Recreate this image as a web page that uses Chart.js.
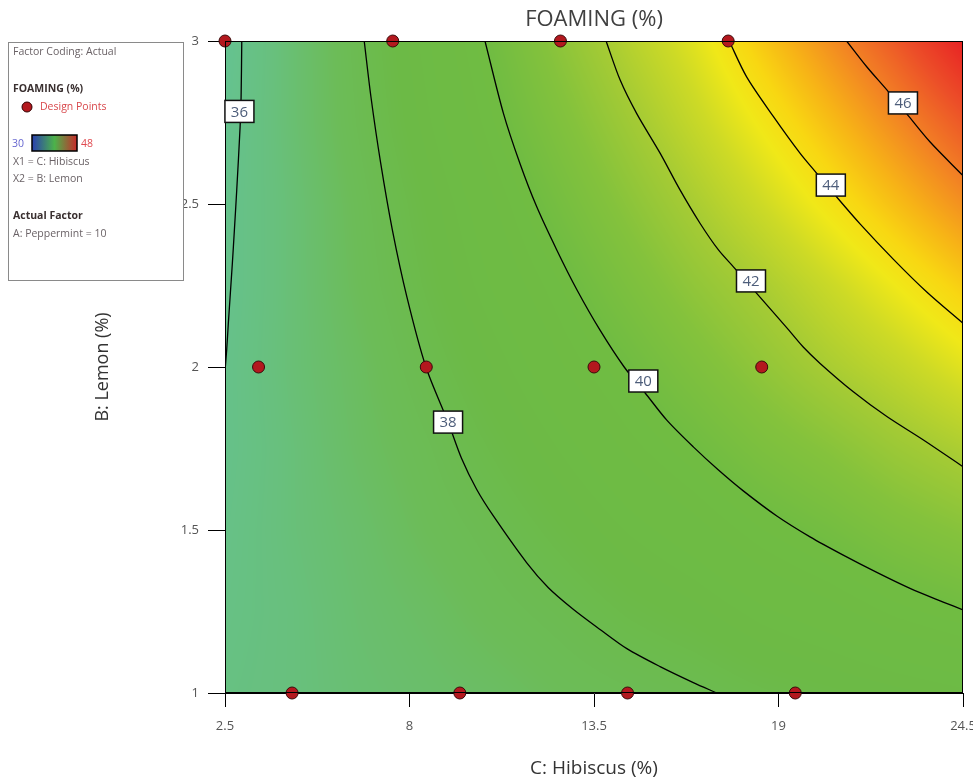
<!DOCTYPE html>
<html>
<head>
<meta charset="utf-8">
<script src="https://cdn.jsdelivr.net/npm/chart.js@4.4.1/dist/chart.umd.min.js"></script>
<style>
html,body{margin:0;padding:0;background:#fff;}
#wrap{position:relative;width:973px;height:783px;}
</style>
</head>
<body>
<div id="wrap"><canvas id="c" width="973" height="783"></canvas></div>
<script>
// ---------- data ----------
const chartTitle = 'FOAMING (%)';
const xTitle = 'C: Hibiscus (%)';
const yTitle = 'B: Lemon (%)';

const hibiscusTicks = [2.5, 8, 13.5, 19, 24.5];
const hibiscusTickLabels = ['2.5', '8', '13.5', '19', '24.5'];
const lemonTicks = [1, 1.5, 2, 2.5, 3];
const lemonTickLabels = ['1', '1.5', '2', '2.5', '3'];

// design points (C: Hibiscus, B: Lemon)
const designHibiscus = [2.5, 7.5, 12.5, 17.5, 3.5, 8.5, 13.5, 18.5, 4.5, 9.5, 14.5, 19.5];
const designLemon    = [3, 3, 3, 3, 2, 2, 2, 2, 1, 1, 1, 1];

// contour lines [hibiscus, lemon]
const contour36 = [[3.00,3.000],[2.98,2.828],[2.95,2.736],[2.85,2.543],[2.78,2.420],[2.72,2.319],[2.60,2.135],[2.55,2.052],[2.51,2.000],[2.50,1.990]];
const contour38 = [[6.65,3.000],[6.85,2.829],[7.14,2.626],[7.49,2.420],[7.92,2.216],[8.49,2.000],[9.15,1.831],[9.55,1.720],[10.00,1.625],[10.50,1.543],[11.49,1.400],[12.14,1.323],[12.88,1.257],[13.68,1.195],[14.48,1.136],[15.47,1.081],[16.46,1.032],[17.16,1.000]];
const contour40 = [[10.25,3.000],[10.80,2.778],[11.29,2.625],[11.79,2.492],[12.39,2.359],[12.99,2.237],[13.68,2.113],[14.40,2.000],[15.02,1.921],[15.67,1.837],[16.46,1.755],[17.21,1.684],[17.95,1.620],[18.95,1.543],[19.94,1.479],[20.93,1.423],[21.93,1.370],[22.92,1.321],[23.91,1.279],[24.50,1.255]];
const contour42 = [[13.86,3.000],[14.28,2.880],[14.77,2.778],[15.47,2.656],[16.06,2.544],[16.66,2.441],[17.21,2.359],[17.65,2.308],[18.35,2.226],[19.25,2.120],[19.73,2.062],[20.24,2.011],[21.23,1.924],[22.23,1.848],[23.32,1.776],[24.50,1.694]];
const contour44 = [[17.53,3.000],[18.05,2.890],[18.85,2.768],[19.64,2.656],[20.14,2.594],[20.63,2.534],[21.43,2.439],[22.42,2.331],[23.42,2.230],[24.50,2.134]];
const contour46 = [[21.03,3.000],[21.63,2.921],[22.23,2.850],[22.82,2.777],[23.52,2.690],[24.50,2.587]];

const contourLevels = [36, 38, 40, 42, 44, 46];
const contourLabelHibiscus = [2.93, 9.15, 14.97, 18.18, 20.56, 22.71];
const contourLabelLemon    = [2.784, 1.831, 1.957, 2.264, 2.558, 2.810];

// estimated FOAMING (%) surface values
const gridHibiscus = [2.5, 4.5, 6.5, 8.5, 10.5, 12.5, 14.5, 16.5, 18.5, 20.5, 22.5, 24.5];
const gridLemon = [1, 1.25, 1.5, 1.75, 2, 2.25, 2.5, 2.75, 3];
const foamAtLemon100 = [36.3,36.5,36.8,37.0,37.2,37.5,37.7,37.9,38.2,38.4,38.6,38.8];
const foamAtLemon125 = [36.2,36.5,36.9,37.2,37.6,37.9,38.3,38.6,39.0,39.3,39.7,40.0];
const foamAtLemon150 = [36.1,36.6,37.0,37.5,37.9,38.4,38.9,39.3,39.8,40.2,40.7,41.1];
const foamAtLemon175 = [36.0,36.6,37.2,37.7,38.3,38.9,39.5,40.0,40.6,41.1,41.7,42.2];
const foamAtLemon200 = [36.0,36.7,37.3,38.0,38.7,39.4,40.0,40.7,41.4,42.1,42.7,43.4];
const foamAtLemon225 = [35.9,36.7,37.5,38.3,39.1,39.8,40.6,41.4,42.1,42.9,43.7,44.5];
const foamAtLemon250 = [35.9,36.7,37.6,38.5,39.4,40.3,41.2,42.1,43.0,43.9,44.8,45.7];
const foamAtLemon275 = [35.8,36.8,37.8,38.8,39.8,40.8,41.8,42.8,43.8,44.8,45.8,46.8];
const foamAtLemon300 = [35.7,36.8,37.9,39.0,40.1,41.3,42.4,43.4,44.6,45.7,46.8,48.0];
const foamGrid = [foamAtLemon100, foamAtLemon125, foamAtLemon150, foamAtLemon175, foamAtLemon200,
                  foamAtLemon225, foamAtLemon250, foamAtLemon275, foamAtLemon300];

const legendMin = 30, legendMax = 48;
const actualFactorText = 'A: Peppermint = 10';

// ---------- styling ----------
const FONT = "'Open Sans', 'Noto Sans', sans-serif";
const colorStops = [
  [30, 30,60,200],[33, 70,150,190],[35.5, 100,195,150],[36.5, 104,192,125],[37.5, 108,188,88],
  [38.5, 108,186,70],[40, 112,188,66],[41, 132,194,60],[42, 165,203,52],[43, 205,218,38],
  [43.7, 240,232,24],[44.3, 248,215,18],[45, 247,180,22],[46, 242,128,36],[47, 236,78,40],[48, 232,34,36]
];
function colorFor(v){
  if (v <= colorStops[0][0]) return colorStops[0].slice(1);
  for (let k = 1; k < colorStops.length; k++){
    if (v <= colorStops[k][0]){
      const a = colorStops[k-1], b = colorStops[k];
      const t = (v - a[0]) / (b[0] - a[0]);
      return [a[1]+(b[1]-a[1])*t, a[2]+(b[2]-a[2])*t, a[3]+(b[3]-a[3])*t];
    }
  }
  return colorStops[colorStops.length-1].slice(1);
}
function sampleFoam(xv, yv){
  const gx = gridHibiscus, gy = gridLemon;
  let i = 0; while (i < gx.length-2 && xv > gx[i+1]) i++;
  let j = 0; while (j < gy.length-2 && yv > gy[j+1]) j++;
  const tx = Math.min(1, Math.max(0, (xv-gx[i])/(gx[i+1]-gx[i])));
  const ty = Math.min(1, Math.max(0, (yv-gy[j])/(gy[j+1]-gy[j])));
  const r0 = foamGrid[j], r1 = foamGrid[j+1];
  const a = r0[i]*(1-tx) + r0[i+1]*tx;
  const b = r1[i]*(1-tx) + r1[i+1]*tx;
  return a*(1-ty) + b*ty;
}

const heatPlugin = {
  id: 'heat',
  beforeDatasetsDraw(chart){
    const {ctx, chartArea: a, scales: {x, y}} = chart;
    const w = Math.round(a.right - a.left), h = Math.round(a.bottom - a.top);
    const off = document.createElement('canvas');
    off.width = w; off.height = h;
    const octx = off.getContext('2d');
    const img = octx.createImageData(w, h);
    const xs = new Array(w);
    for (let i = 0; i < w; i++) xs[i] = x.getValueForPixel(a.left + i + 0.5);
    for (let j = 0; j < h; j++){
      const yv = y.getValueForPixel(a.top + j + 0.5);
      for (let i = 0; i < w; i++){
        const c = colorFor(sampleFoam(xs[i], yv));
        const k = (j*w + i)*4;
        img.data[k] = c[0]; img.data[k+1] = c[1]; img.data[k+2] = c[2]; img.data[k+3] = 255;
      }
    }
    octx.putImageData(img, 0, 0);
    ctx.drawImage(off, a.left, a.top);
  }
};

const overlayPlugin = {
  id: 'overlay',
  afterDatasetsDraw(chart){
    const {ctx, chartArea: a, scales: {x, y}} = chart;
    ctx.save();
    ctx.strokeStyle = '#000'; ctx.lineWidth = 1;
    ctx.strokeRect(a.left + 0.5, a.top + 0.5, a.right - a.left - 1, a.bottom - a.top - 1);
    ctx.font = '15px ' + FONT;
    ctx.textAlign = 'center'; ctx.textBaseline = 'middle';
    contourLevels.forEach((lv, i) => {
      const px = x.getPixelForValue(contourLabelHibiscus[i]);
      const py = y.getPixelForValue(contourLabelLemon[i]);
      const bw = 29, bh = 22;
      ctx.fillStyle = '#fff';
      ctx.fillRect(px - bw/2, py - bh/2, bw, bh);
      ctx.lineWidth = 1.5; ctx.strokeStyle = '#111';
      ctx.strokeRect(px - bw/2, py - bh/2, bw, bh);
      ctx.fillStyle = '#4d5d7a';
      ctx.fillText(String(lv), px, py + 1);
    });
    ctx.restore();
  },
  afterDraw(chart){
    const ctx = chart.ctx;
    ctx.save();
    ctx.fillStyle = '#fff';
    ctx.fillRect(8, 42, 175, 238);
    ctx.strokeStyle = '#8a8a8a'; ctx.lineWidth = 1;
    ctx.strokeRect(8.5, 42.5, 175, 238);
    ctx.textAlign = 'left'; ctx.textBaseline = 'middle';
    ctx.font = '10.5px ' + FONT;
    ctx.fillStyle = '#6a6266';
    ctx.fillText('Factor Coding: Actual', 13, 52);
    ctx.font = 'bold 10.5px ' + FONT;
    ctx.fillStyle = '#3a3030';
    ctx.fillText(chartTitle, 13, 89);
    ctx.beginPath(); ctx.arc(27, 107, 5, 0, Math.PI*2);
    ctx.fillStyle = '#b3181e'; ctx.fill();
    ctx.strokeStyle = '#300'; ctx.lineWidth = 1; ctx.stroke();
    ctx.font = '10.5px ' + FONT;
    ctx.fillStyle = '#d8484c';
    ctx.fillText('Design Points', 40, 107);
    ctx.fillStyle = '#6666d0';
    ctx.fillText(String(legendMin), 12, 144);
    const g = ctx.createLinearGradient(32, 0, 77, 0);
    g.addColorStop(0, '#2a3fb0'); g.addColorStop(0.5, '#4cb24a'); g.addColorStop(1, '#c82a2a');
    ctx.fillStyle = g; ctx.fillRect(32, 135, 45, 16);
    ctx.strokeStyle = '#000'; ctx.lineWidth = 1.5; ctx.strokeRect(32, 135, 45, 16);
    ctx.fillStyle = '#e04a50';
    ctx.fillText(String(legendMax), 81, 144);
    ctx.fillStyle = '#6a6266';
    ctx.fillText('X1 = ' + xTitle.replace(' (%)', ''), 13, 162);
    ctx.fillText('X2 = ' + yTitle.replace(' (%)', ''), 13, 179);
    ctx.font = 'bold 10.5px ' + FONT;
    ctx.fillStyle = '#3a3030';
    ctx.fillText('Actual Factor', 13, 216);
    ctx.font = '10.5px ' + FONT;
    ctx.fillStyle = '#6a6266';
    ctx.fillText(actualFactorText, 13, 234);
    ctx.restore();
  }
};

const contourSets = [contour36, contour38, contour40, contour42, contour44, contour46];

const datasets = [
  {
    label: 'Design Points',
    data: designHibiscus.map((xv, i) => ({x: xv, y: designLemon[i]})),
    showLine: false,
    pointRadius: 6,
    pointHoverRadius: 6,
    pointBackgroundColor: '#b3181e',
    pointBorderColor: '#3a0a0a',
    pointBorderWidth: 1,
    clip: false
  },
  ...contourSets.map((c, i) => ({
    label: 'Contour ' + contourLevels[i],
    data: c.map(p => ({x: p[0], y: p[1]})),
    showLine: true,
    borderColor: '#000',
    borderWidth: 1.3,
    pointRadius: 0,
    pointHoverRadius: 0,
    tension: 0.3,
    fill: false
  }))
];

new Chart(document.getElementById('c'), {
  type: 'scatter',
  data: { datasets },
  options: {
    responsive: false,
    animation: false,
    events: [],
    layout: { padding: { top: 0, right: 10, left: 0, bottom: 0 } },
    plugins: {
      legend: { display: false },
      tooltip: { enabled: false },
      title: {
        display: true, text: chartTitle, fullSize: false,
        color: '#404040', font: { family: FONT, size: 22, weight: 'normal' },
        padding: { top: 7, bottom: 7.6 }
      }
    },
    scales: {
      x: {
        type: 'linear', min: 2.5, max: 24.5,
        afterBuildTicks: s => { s.ticks = hibiscusTicks.map(v => ({value: v})); },
        afterFit: s => { s.height = 90; s.paddingLeft = 0; s.paddingRight = 0; },
        ticks: {
          autoSkip: false, maxRotation: 0, padding: 11, color: '#555',
          font: { family: FONT, size: 13 },
          callback: (v, i) => hibiscusTickLabels[i]
        },
        grid: { drawOnChartArea: false, drawTicks: true, tickLength: 14, color: '#000', tickColor: '#000' },
        border: { display: true, color: '#000', width: 1 },
        title: { display: true, text: xTitle, color: '#333', font: { family: FONT, size: 19 }, padding: { top: 0, bottom: 3 } }
      },
      y: {
        type: 'linear', min: 1, max: 3,
        afterBuildTicks: s => { s.ticks = lemonTicks.map(v => ({value: v})); },
        afterFit: s => { s.width = 225; s.paddingTop = 0; s.paddingBottom = 0; },
        ticks: {
          autoSkip: false, padding: 9, color: '#555',
          font: { family: FONT, size: 13 },
          callback: (v, i) => lemonTickLabels[i]
        },
        grid: { drawOnChartArea: false, drawTicks: true, tickLength: 17, color: '#000', tickColor: '#000' },
        border: { display: true, color: '#000', width: 1 },
        title: { display: true, text: yTitle, color: '#333', font: { family: FONT, size: 18 }, padding: { top: 92, bottom: 0 } }
      }
    }
  },
  plugins: [heatPlugin, overlayPlugin]
});
</script>
</body>
</html>
